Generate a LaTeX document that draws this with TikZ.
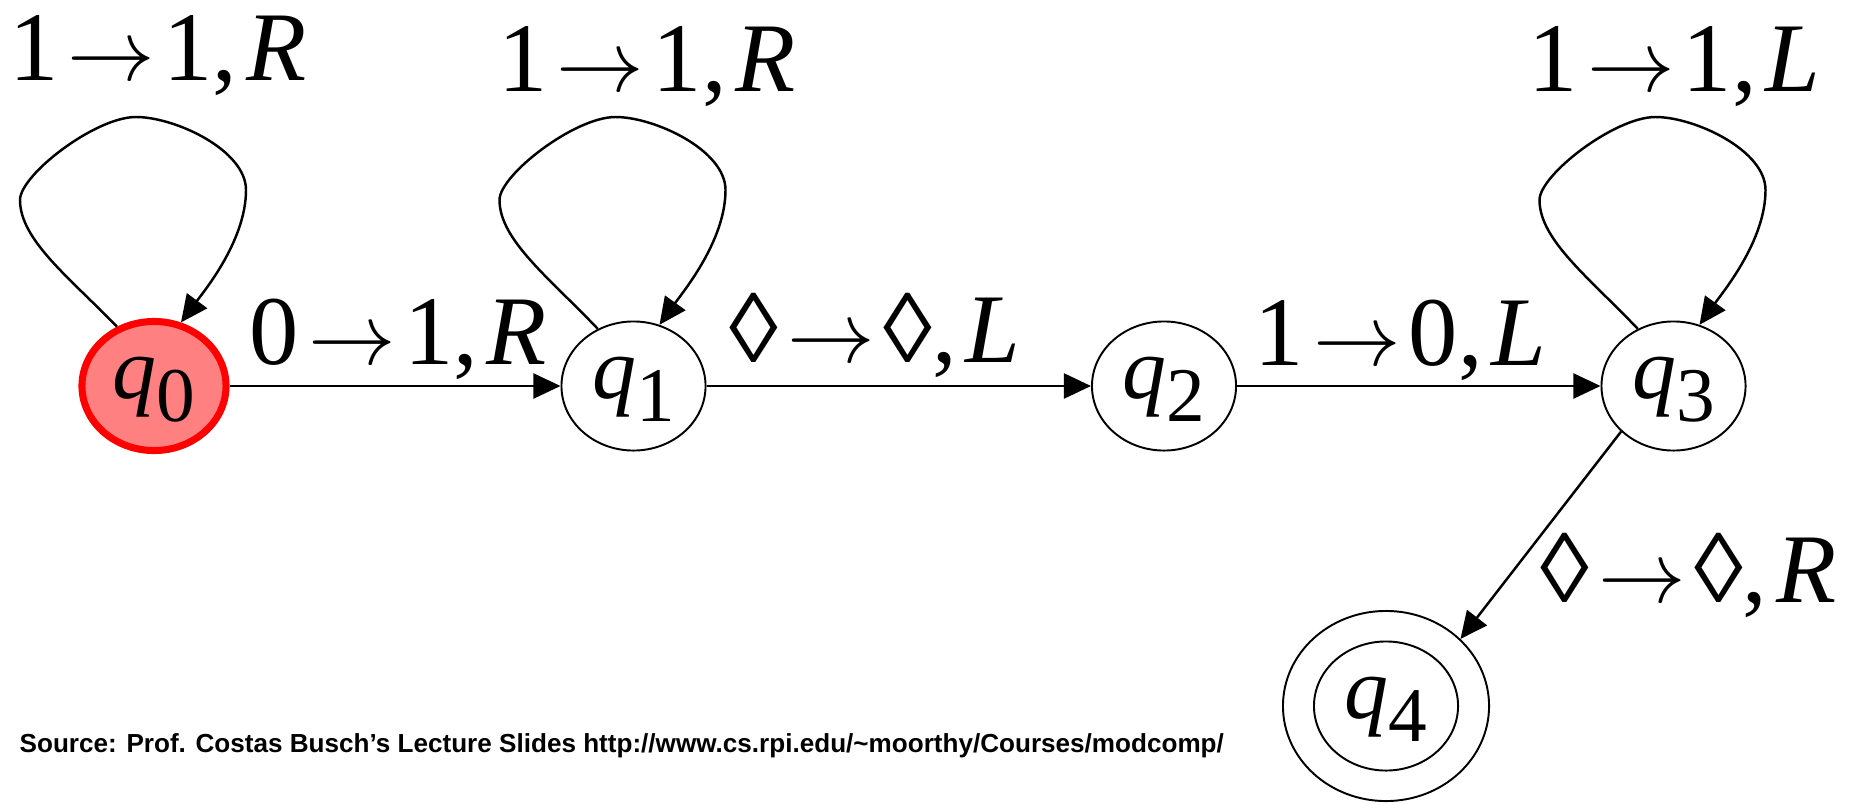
\documentclass[tikz,border=0pt]{standalone}
\usepackage{fontspec}
\setmainfont{Liberation Serif}
\newfontfamily\srcfont{Liberation Sans}
\usetikzlibrary{shapes.geometric,arrows.meta,calc}
\definecolor{qred}{RGB}{255,0,0}
\definecolor{qpink}{RGB}{255,128,128}
\newcommand{\qstate}[1]{{\fontsize{25}{25}\selectfont\itshape q}\raisebox{-6.5pt}{\fontsize{22}{22}\selectfont #1}}
\newcommand{\trlab}[3]{#1\kern2.6pt$\rightarrow$\kern2.4pt#2,\kern2.5pt\textit{#3}}
\newcommand{\tmloop}[1]{%
  \draw[edge] (#1.122) .. controls ($(#1)+(-84,-108)$) and ($(#1)+(-134,-146)$) .. ($(#1)+(-134,-186)$)
    .. controls ($(#1)+(-134,-211)$) and ($(#1)+(-59,-269)$) .. ($(#1)+(-18,-269)$)
    .. controls ($(#1)+(21,-269)$) and ($(#1)+(92,-236)$) .. ($(#1)+(92,-196)$)
    .. controls ($(#1)+(92,-146)$) and ($(#1)+(51,-96)$) .. (#1.67);}
\tikzset{
  state/.style={ellipse, draw, line width=0.55pt, minimum width=1.44cm, minimum height=1.29cm,
    inner sep=0pt, text height=12pt, text depth=5pt},
  initstate/.style={draw=qred, fill=qpink, line width=2pt},
  edge/.style={line width=0.7pt, -{Triangle[length=7.7pt,width=7.1pt]}},
  lab/.style={font=\fontsize{28}{28}\selectfont, inner sep=0pt, anchor=base, text height=19pt, text depth=5pt},
}
\begin{document}
\begin{tikzpicture}[x=0.01cm, y=-0.01cm]
\useasboundingbox (0,0) rectangle (1864,803);
\node[state, initstate] (q0) at (154,386) {\qstate{0}};
\node[state] (q1) at (633.5,386) {\qstate{1}};
\node[state] (q2) at (1164,386) {\qstate{2}};
\node[state] (q3) at (1673.5,386) {\qstate{3}};
\node[state] (q4) at (1386,706) {\qstate{4}};
\node[ellipse, draw, line width=0.55pt, minimum width=2.06cm, minimum height=1.90cm, inner sep=0pt] (q4o) at (1386,706) {};
\draw[edge] (q0) -- (q1);
\draw[edge] (q1) -- (q2);
\draw[edge] (q2) -- (q3);
\draw[edge] (q3.221) -- (q4o.42);
\tmloop{q0}
\tmloop{q1}
\tmloop{q3}
\node[lab] (l00) at (158,80) {\trlab{1}{1}{R}};
\node[lab] (l01) at (398.5,364) {\trlab{0}{1}{R}};
\node[lab] (l11) at (647,91) {\trlab{1}{1}{R}};
\node[lab] (l12) at (875,362) {\trlab{◊}{◊}{L}};
\node[lab] (l23) at (1400.5,365) {\trlab{1}{0}{L}};
\node[lab] (l33) at (1674.5,91) {\trlab{1}{1}{L}};
\node[lab] (l34) at (1688.5,602) {\trlab{◊}{◊}{R}};
\node[font=\srcfont\bfseries\fontsize{7.42}{9}\selectfont, anchor=base west, inner sep=0pt] (src) at (19,752)
  {Source: Prof. Costas Busch’s Lecture Slides http://www.cs.rpi.edu/\textasciitilde moorthy/Courses/modcomp/};
\end{tikzpicture}
\end{document}
